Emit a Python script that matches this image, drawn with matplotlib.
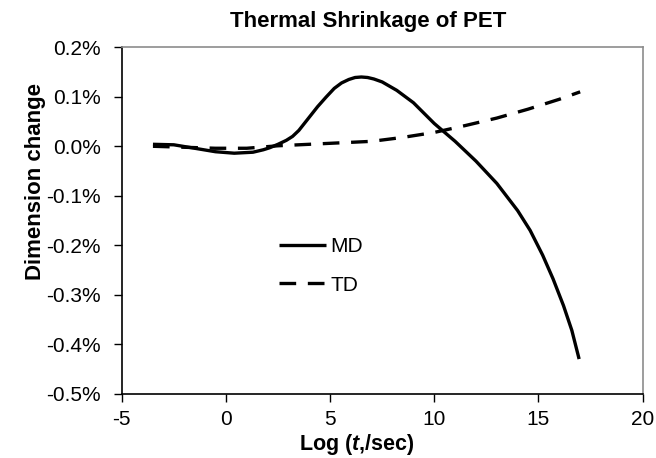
import matplotlib
matplotlib.use("Agg")
import matplotlib.pyplot as plt
from matplotlib.ticker import FuncFormatter

plt.rcParams["font.family"] = ["Liberation Sans", "DejaVu Sans"]
plt.rcParams["axes.unicode_minus"] = False
plt.rcParams["mathtext.fontset"] = "custom"
plt.rcParams["mathtext.it"] = "Liberation Sans:italic:bold"
plt.rcParams["mathtext.rm"] = "Liberation Sans:bold"

# MD curve (log time, dimension change in %)
md_x = [-3.5, -2.5, -1.5, -0.5, 0.4, 1.3, 1.8, 2.1, 2.5, 2.9, 3.2, 3.5, 3.8, 4.1, 4.4,
        4.8, 5.2, 5.55, 5.9, 6.2, 6.5, 6.8, 7.1, 7.5, 8.2, 9.0, 10.0, 11.0, 12.0, 13.0,
        14.0, 14.6, 15.2, 15.7, 16.2, 16.6, 16.95]
md_y = [0.004, 0.003, -0.004, -0.011, -0.014, -0.012, -0.007, -0.003, 0.004, 0.012,
        0.020, 0.032, 0.048, 0.064, 0.080, 0.099, 0.117, 0.128, 0.135, 0.139, 0.140,
        0.139, 0.136, 0.130, 0.113, 0.088, 0.046, 0.010, -0.030, -0.075, -0.130,
        -0.170, -0.220, -0.268, -0.322, -0.372, -0.430]

# TD curve
td_x = [-3.5, -2.0, -0.5, 1.0, 2.5, 4.0, 5.5, 7.0, 8.5, 10.0, 11.5, 13.0, 14.5, 16.0, 17.0]
td_y = [0.000, -0.002, -0.004, -0.004, 0.001, 0.004, 0.007, 0.010, 0.018, 0.028,
        0.042, 0.057, 0.075, 0.095, 0.110]

x_ticks = [-5, 0, 5, 10, 15, 20]
y_ticks = [-0.5, -0.4, -0.3, -0.2, -0.1, 0.0, 0.1, 0.2]

fig = plt.figure(figsize=(6.56, 4.58), dpi=100)
ax = fig.add_axes([0.1855, 0.1404, 0.7942, 0.7563])

ax.plot(md_x, md_y, color="black", lw=2.4, label="MD",
        solid_capstyle="butt", solid_joinstyle="round")
ax.plot(td_x, td_y, color="black", lw=2.4, dashes=(5, 3.5), label="TD")

ax.set_xlim(-5, 20)
ax.set_ylim(-0.5, 0.2)
ax.set_xticks(x_ticks)
ax.set_yticks(y_ticks)
ax.yaxis.set_major_formatter(FuncFormatter(lambda v, p: f"{v:.1f}%"))
ax.tick_params(axis="both", direction="out", length=6, width=1, labelsize=15, color="black")
ax.tick_params(axis="y", pad=9)
ax.tick_params(axis="x", pad=6)

for s in ["top", "right"]:
    ax.spines[s].set_color("#8c8c8c")
    ax.spines[s].set_linewidth(1.2)
for s in ["left", "bottom"]:
    ax.spines[s].set_color("black")
    ax.spines[s].set_linewidth(1.2)

ax.set_xlabel(r"Log ($\mathit{t}$,/sec)", fontsize=15.5, fontweight="bold")
ax.xaxis.set_label_coords(0.452, -0.11)
ax.set_ylabel("Dimension change", fontsize=16, fontweight="bold")
ax.yaxis.set_label_coords(-0.145, 0.614)

fig.text(0.561, 0.954, "Thermal Shrinkage of PET", fontsize=16, fontweight="bold",
         ha="center", va="center")

ax.legend(loc="center left", bbox_to_anchor=(0.285, 0.369), frameon=False, fontsize=15,
          handlelength=2.3, handletextpad=0.2, labelspacing=0.95, borderaxespad=0)

fig.savefig("out.png", dpi=100)
